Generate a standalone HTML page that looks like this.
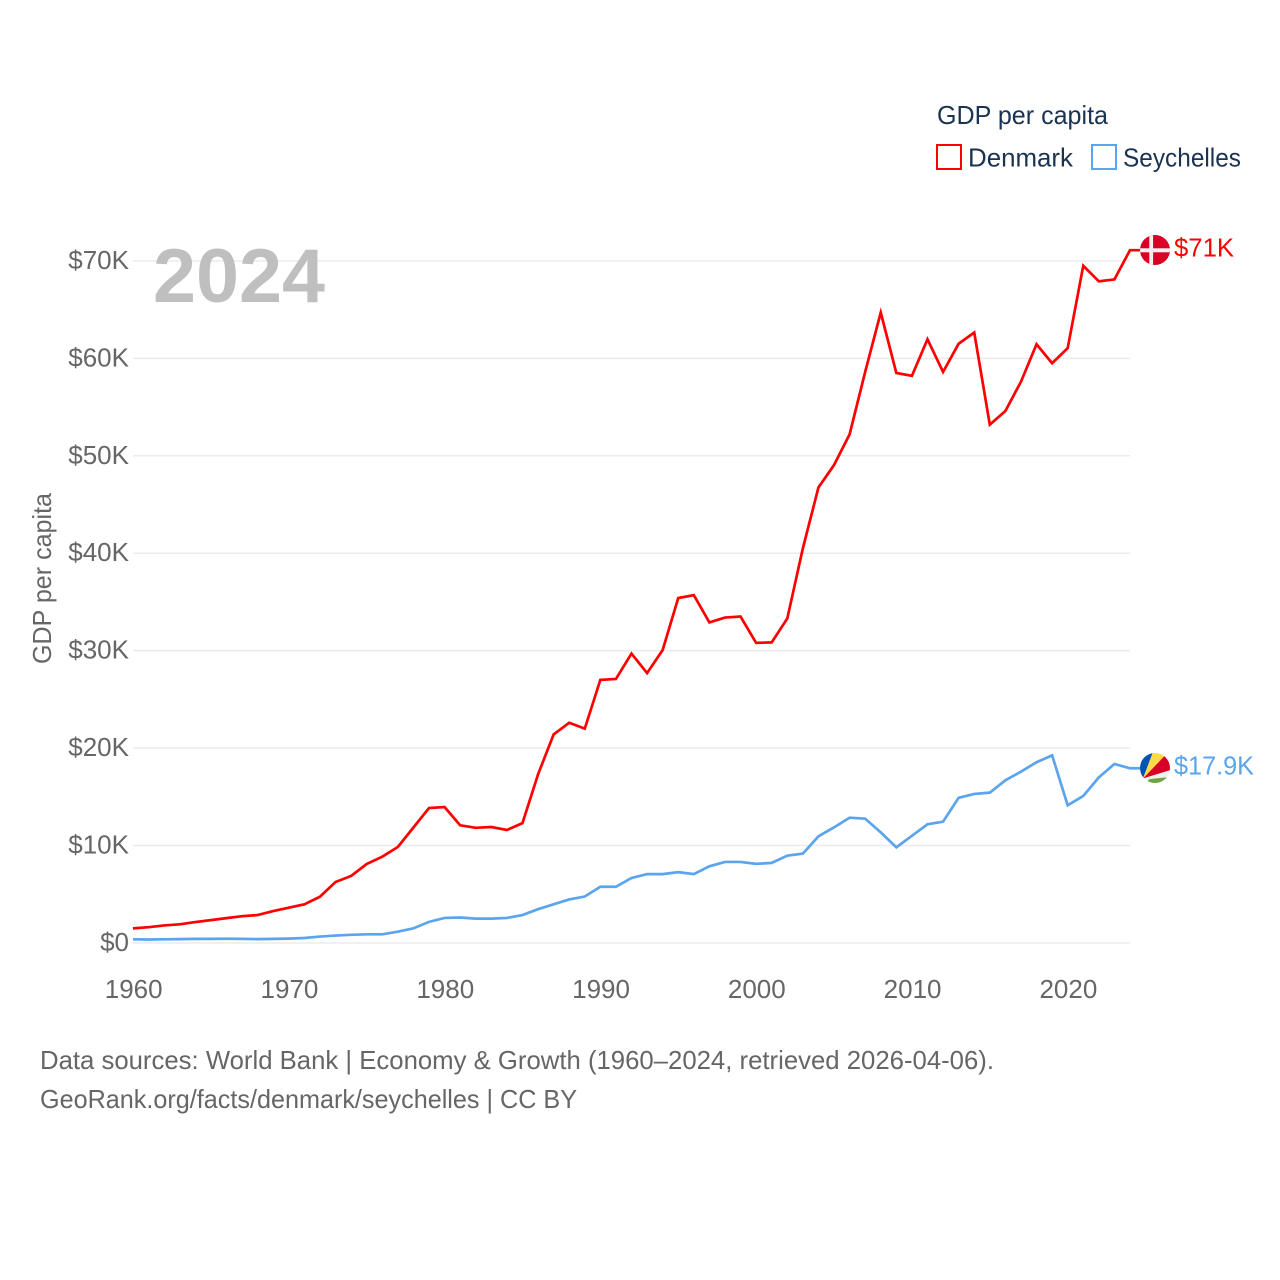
<!DOCTYPE html>
<html lang="en">
<head>
<meta charset="utf-8">
<title>GDP per capita: Denmark and Seychelles</title>
<style>
html,body{margin:0;padding:0;background:#fff;}
svg{display:block;font-family:"Liberation Sans",sans-serif;}
</style>
</head>
<body>
<svg id="chart" width="1280" height="1280" viewBox="0 0 1280 1280" xmlns="http://www.w3.org/2000/svg">
  <defs>
    <clipPath id="flag-clip-dk"><circle cx="1155" cy="250" r="15"/></clipPath>
    <clipPath id="flag-clip-sc"><circle cx="1155" cy="768" r="15"/></clipPath>
  </defs>
  <rect width="1280" height="1280" fill="#fff"/>
  <g id="grid"></g>
  <g id="yticks"></g>
  <g id="xticks"></g>
  <text x="153" y="302" font-size="76" font-weight="700" fill="#bfbfbf" textLength="172" lengthAdjust="spacingAndGlyphs">2024</text>
  <text transform="translate(51,664) rotate(-90)" font-size="26" fill="#666" textLength="171" lengthAdjust="spacingAndGlyphs">GDP per capita</text>
  <g id="series"></g>

  <g clip-path="url(#flag-clip-dk)">
    <rect x="1140" y="235" width="30" height="30" fill="#d80027"/>
    <rect x="1149.3" y="235" width="3.8" height="30" fill="#f0f0f0"/>
    <rect x="1140" y="248.3" width="30" height="4" fill="#f0f0f0"/>
  </g>
  <g clip-path="url(#flag-clip-sc)">
    <g transform="translate(1155,768)">
      <rect x="-15" y="-15" width="30" height="30" fill="#f0f0f0"/>
      <polygon points="-12,10.5 -2,-16 -16,-16 -16,10.5" fill="#0052b4"/>
      <polygon points="-12,10.5 -2,-16 9,-16 12,-16 10,-12.7 16,-16" fill="#ffda44"/>
      <polygon points="-12,10.5 11,-13.5 17,-13.5 17,1.6" fill="#d80027"/>
      <polygon points="-12,10.5 17,1.6 17,10" fill="#f0f0f0"/>
      <polygon points="-9,14 -5,11 10,9.5 17,9 17,20 -16,20" fill="#6da544"/>
    </g>
  </g>
  <text id="label-dk" x="1174" y="256.5" font-size="26" fill="#ff0000" textLength="60" lengthAdjust="spacingAndGlyphs">$71K</text>
  <text id="label-sc" x="1174" y="774.5" font-size="26" fill="#5ba4ee" textLength="80" lengthAdjust="spacingAndGlyphs">$17.9K</text>

  <g>
    <text x="937" y="124" font-size="26" fill="#1a3353" textLength="171" lengthAdjust="spacingAndGlyphs">GDP per capita</text>
    <g>
      <rect x="937" y="145" width="24" height="24" fill="#fff" stroke="#ff0000" stroke-width="2"/>
      <text x="968" y="166.5" font-size="26" fill="#1a3353" textLength="105" lengthAdjust="spacingAndGlyphs">Denmark</text>
    </g>
    <g>
      <rect x="1092" y="145" width="24" height="24" fill="#fff" stroke="#5ba4ee" stroke-width="2"/>
      <text x="1123" y="166.5" font-size="26" fill="#1a3353" textLength="118" lengthAdjust="spacingAndGlyphs">Seychelles</text>
    </g>
  </g>

  <text x="40" y="1069" font-size="26" fill="#666" textLength="954" lengthAdjust="spacingAndGlyphs">Data sources: World Bank | Economy &amp; Growth (1960–2024, retrieved 2026-04-06).</text>
  <text x="40" y="1108" font-size="26" fill="#666" textLength="537" lengthAdjust="spacingAndGlyphs">GeoRank.org/facts/denmark/seychelles | CC BY</text>
</svg>
<script>
const startYear = 1960;
const endYear = 2024;
const denmarkValues = [
  1.5,1.62,1.8,1.92,2.15,2.35,2.55,2.75,2.87,3.28,
  3.62,3.97,4.75,6.26,6.88,8.1,8.86,9.85,11.85,13.85,
  13.95,12.08,11.82,11.9,11.6,12.3,17.3,21.4,22.6,22.0,
  27.0,27.1,29.7,27.7,30.07,35.4,35.7,32.9,33.4,33.5,
  30.8,30.85,33.3,40.5,46.75,49.05,52.2,58.6,64.7,58.5,
  58.2,61.96,58.6,61.5,62.65,53.2,54.6,57.6,61.45,59.5,
  61.05,69.5,67.9,68.1,71.1
];
const seychellesValues = [
  0.38,0.36,0.38,0.4,0.42,0.42,0.44,0.42,0.4,0.42,
  0.45,0.51,0.66,0.76,0.84,0.89,0.89,1.16,1.5,2.17,
  2.57,2.62,2.5,2.5,2.57,2.87,3.47,3.97,4.47,4.77,
  5.77,5.77,6.67,7.07,7.07,7.27,7.07,7.87,8.32,8.32,
  8.12,8.22,8.96,9.17,10.95,11.87,12.86,12.76,11.35,9.82,
  11.0,12.18,12.45,14.9,15.3,15.43,16.7,17.58,18.55,19.26,
  14.13,15.09,17.0,18.37,17.93
];
const yTickValues = [0,10,20,30,40,50,60,70];
const yTickLabels = ["$0","$10K","$20K","$30K","$40K","$50K","$60K","$70K"];
const xTickYears = [1960,1970,1980,1990,2000,2010,2020];

const NS = "http://www.w3.org/2000/svg";
function xScale(year){ return 133 + (year - startYear) * (1130 - 133) / (endYear - startYear); }
function yScale(value){ return 943 - value * (943 - 260.9) / 70; }

const gridGroup = document.getElementById("grid");
const yTickGroup = document.getElementById("yticks");
const xTickGroup = document.getElementById("xticks");
const seriesGroup = document.getElementById("series");

yTickValues.forEach(function(v, i){
  const line = document.createElementNS(NS, "line");
  
  
  line.setAttribute("x1", 133);
  line.setAttribute("x2", 1130);
  line.setAttribute("y1", yScale(v));
  line.setAttribute("y2", yScale(v));
  line.setAttribute("stroke", "#ebebeb");
  line.setAttribute("stroke-width", "1.5");
  gridGroup.appendChild(line);

  const label = document.createElementNS(NS, "text");
  
  
  label.setAttribute("x", 129);
  label.setAttribute("y", yScale(v) + 8);
  label.setAttribute("text-anchor", "end");
  label.setAttribute("font-size", "26");
  label.setAttribute("fill", "#666");
  label.textContent = yTickLabels[i];
  yTickGroup.appendChild(label);
});

xTickYears.forEach(function(year){
  const label = document.createElementNS(NS, "text");
  
  
  label.setAttribute("x", xScale(year) + 0.7);
  label.setAttribute("y", 998);
  label.setAttribute("text-anchor", "middle");
  label.setAttribute("font-size", "26");
  label.setAttribute("fill", "#666");
  label.textContent = String(year);
  xTickGroup.appendChild(label);
});

function linePath(values){
  const pts = values.map(function(v, i){
    return xScale(startYear + i).toFixed(2) + "," + yScale(v).toFixed(2);
  });
  const last = values[values.length - 1];
  pts.push("1145," + yScale(last).toFixed(2));
  return pts.join(" ");
}

const seychellesLine = document.createElementNS(NS, "polyline");


seychellesLine.setAttribute("points", linePath(seychellesValues));
seychellesLine.setAttribute("fill", "none");
seychellesLine.setAttribute("stroke", "#5ba4ee");
seychellesLine.setAttribute("stroke-width", "2.7");
seychellesLine.setAttribute("stroke-linejoin", "miter");
seriesGroup.appendChild(seychellesLine);

const denmarkLine = document.createElementNS(NS, "polyline");


denmarkLine.setAttribute("points", linePath(denmarkValues));
denmarkLine.setAttribute("fill", "none");
denmarkLine.setAttribute("stroke", "#ff0000");
denmarkLine.setAttribute("stroke-width", "2.7");
denmarkLine.setAttribute("stroke-linejoin", "miter");
seriesGroup.appendChild(denmarkLine);
</script>
</body>
</html>
